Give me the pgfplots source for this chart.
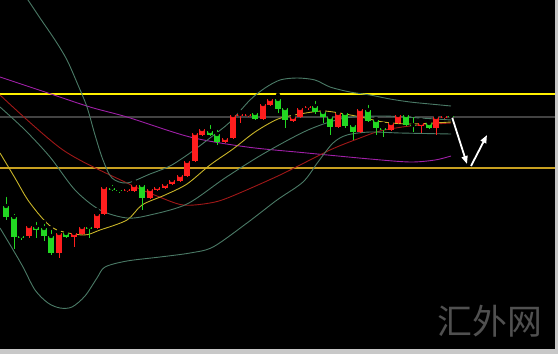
\documentclass[border=0pt]{standalone}
\usepackage{pgfplots}
\pgfplotsset{compat=1.18}
\usepackage{pgfplotstable}
\usepackage{fontspec}
\newfontfamily\cjk{Noto Sans CJK SC}
\usetikzlibrary{arrows.meta}
\definecolor{cred}{HTML}{FF1E1E}
\definecolor{cgreen}{HTML}{22D822}
\definecolor{band}{HTML}{4A7A66}
\definecolor{mared}{HTML}{A01818}
\definecolor{mayel}{HTML}{C8B428}
\definecolor{mapur}{HTML}{A020A8}
\definecolor{hgold}{RGB}{200,160,32}
\definecolor{hgray}{RGB}{66,66,66}

% x, body top, body bottom, high, low (pixel rows, y grows downward)
\pgfplotstableread{
x t b h l
29 226 236 224 238
59 233 253 230 258
74 233 237 232 247
82 227 234 225 235
97 214 228 210 229
104 187 214 184 215
127 189 191 188 192
134 185 191 181 192
150 189 198 186 199
157 187 190 186 191
165 184 188 183 189
172 180 184 179 185
180 175 181 174 182
187 161 176 160 177
195 133 161 131 162
202 129 135 128 136
225 138 142 136 143
233 115 138 113 139
240 114 116 112 123
248 114 116 113 117
263 104 119 103 120
270 99 105 98 106
293 117 121 115 122
300 108 117 107 118
308 106 108 105 110
338 113 127 111 128
360 109 132 108 133
391 123 130 122 131
398 115 123 114 124
421 123 126 120 133
436 117 128 116 135
444 116 118 112 119
}\redtab

\pgfplotstableread{
x t b h l
6 206 217 195 220
14 217 237 212 249
21 236 238 233 240
36 227 230 220 238
44 228 236 222 241
51 236 253 228 255
66 233 237 230 238
89 227 229 223 238
112 188 190 183 191
119 190 191 188 193
142 185 198 184 210
210 131 135 123 136
217 134 142 128 145
255 113 119 112 120
278 99 109 95 113
285 108 120 107 128
315 106 112 99 114
323 112 117 111 123
330 117 127 115 135
345 113 126 112 128
353 125 132 124 140
368 110 121 103 122
376 120 128 119 135
383 128 130 124 137
406 115 125 114 126
413 125 126 115 132
429 123 128 122 129
451 116 117 115 118
}\greentab

\begin{document}
\begin{tikzpicture}
\begin{axis}[
  width=558bp, height=354bp, scale only axis,
  xmin=0, xmax=558, ymin=0, ymax=354, y dir=reverse,
  axis line style={draw=none}, ticks=none,
  clip=true,
]
% background and frame
\fill[fill={rgb,255:red,200;green,200;blue,200}] (axis cs:0,0) rectangle (axis cs:558,354);
\fill[black] (axis cs:0,0) rectangle (axis cs:555,349);

% horizontal levels
\addplot[draw={rgb,255:red,255;green,240;blue,0}, line width=2bp] coordinates {(0,93.5) (555,93.5)};
\addplot[draw=hgray, line width=1.4bp] coordinates {(0,117) (555,117)};
\addplot[draw=hgold, line width=1.8bp] coordinates {(0,168) (555,168)};

% moving averages
\addplot[mapur, line width=0.9bp, smooth] coordinates {
(0,77) (45,92) (90,107) (127,117) (190,137) (247,147) (307,153) (370,159) (410,162) (435,160) (451,156)};
\addplot[mared, line width=0.9bp, smooth] coordinates {
(0,95) (63,150) (127,183) (157,196) (183,205) (210,203) (230,197) (280,175) (330,150) (360,138) (380,131) (410,126) (451,123)};
\addplot[mayel, line width=0.9bp, smooth] coordinates {
(0,153) (15,178) (30,203) (53,228) (83,235) (100,230) (127,220) (142,205) (165,195) (187,184) (210,165) (233,149) (255,132) (278,119) (300,114) (323,111) (345,114) (365,118) (383,122) (410,124) (451,122)};

% Bollinger bands
\addplot[band, line width=0.9bp, smooth] coordinates {
(18,-15) (28,0) (40,18) (55,40) (67,60) (78,85) (87,107) (95,135) (103,160) (112,178) (127,183) (150,174) (170,166) (190,153) (210,138) (230,122) (250,100) (265,88) (280,80) (297,78) (315,80) (330,87) (350,92) (370,95) (390,99) (410,102) (430,104) (451,106)};
\addplot[band, line width=0.9bp, smooth] coordinates {
(0,107) (25,130) (50,157) (75,190) (100,210) (127,218) (150,215) (187,204) (225,178) (263,154) (308,130) (345,118) (383,116) (420,118) (451,120)};
\addplot[band, line width=0.9bp, smooth] coordinates {
(0,228) (12,248) (23,267) (35,290) (48,303) (60,308) (72,307) (85,296) (97,278) (105,267) (127,261) (160,257) (190,253) (213,247) (247,223) (277,200) (303,182) (318,162) (333,143) (347,135) (370,132) (400,133) (451,134)};

% candles: wicks
\addplot[only marks, mark=none, error bars/.cd, y dir=plus, y explicit, error mark=none,
  error bar style={draw=cred, line width=1bp}]
  table[x=x, y=h, y error plus expr=\thisrow{l}-\thisrow{h}] {\redtab};
\addplot[only marks, mark=none, error bars/.cd, y dir=plus, y explicit, error mark=none,
  error bar style={draw=cgreen, line width=1bp}]
  table[x=x, y=h, y error plus expr=\thisrow{l}-\thisrow{h}] {\greentab};
% candles: bodies
\addplot[only marks, mark=none, error bars/.cd, y dir=plus, y explicit, error mark=none,
  error bar style={draw=cred, line width=5.5bp}]
  table[x=x, y=t, y error plus expr=\thisrow{b}-\thisrow{t}] {\redtab};
\addplot[only marks, mark=none, error bars/.cd, y dir=plus, y explicit, error mark=none,
  error bar style={draw=cgreen, line width=5.5bp}]
  table[x=x, y=t, y error plus expr=\thisrow{b}-\thisrow{t}] {\greentab};

% forecast arrows
\draw[white, line width=1.8bp, -{Triangle[width=6bp,length=8bp]}] (axis cs:452,117) -- (axis cs:467,164);
\draw[white, line width=1.8bp, -{Triangle[width=6bp,length=8bp]}] (axis cs:471,166) -- (axis cs:487,135);

% watermark
\node[text={rgb,255:red,80;green,80;blue,80}, anchor=center, inner sep=0pt]
  at (axis cs:490,321) {\cjk\fontsize{35}{35}\selectfont 汇外网};
\end{axis}
\end{tikzpicture}
\end{document}
